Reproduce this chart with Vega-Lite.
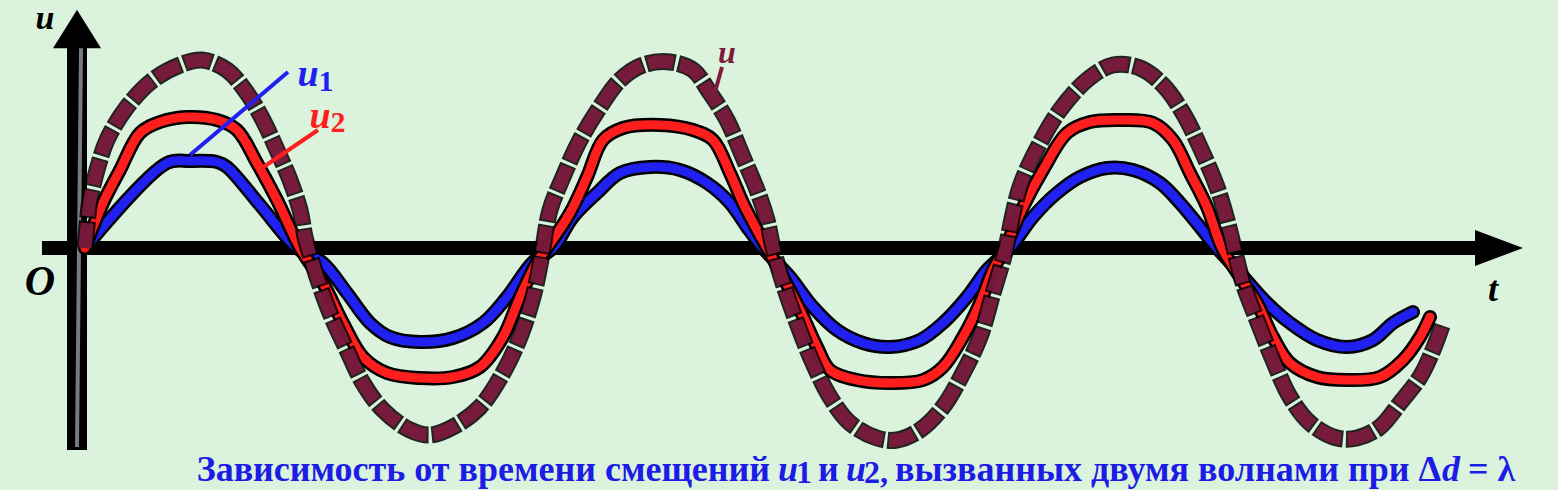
{
  "$schema": "https://vega.github.io/schema/vega-lite/v6.json",
  "width": 1558,
  "height": 490,
  "autosize": {"type": "none"},
  "padding": 0,
  "background": "#dbf3dc",
  "config": {"view": {"stroke": null}},
  "datasets": {
    "curves": [
      {"series": "u1", "t": 0, "u": 0}, {"series": "u1", "t": 82, "u": 85}, {"series": "u1", "t": 105, "u": 87}, {"series": "u1", "t": 132, "u": 86}, {"series": "u1", "t": 142, "u": 81}, {"series": "u1", "t": 175, "u": 43}, {"series": "u1", "t": 212, "u": 0},
      {"series": "u1", "t": 238, "u": -15}, {"series": "u1", "t": 262, "u": -45}, {"series": "u1", "t": 285, "u": -75}, {"series": "u1", "t": 305, "u": -89}, {"series": "u1", "t": 335, "u": -94}, {"series": "u1", "t": 368, "u": -90}, {"series": "u1", "t": 398, "u": -75}, {"series": "u1", "t": 422, "u": -49}, {"series": "u1", "t": 448, "u": -14}, {"series": "u1", "t": 468, "u": 0},
      {"series": "u1", "t": 488, "u": 31}, {"series": "u1", "t": 512, "u": 55}, {"series": "u1", "t": 535, "u": 75}, {"series": "u1", "t": 565, "u": 81}, {"series": "u1", "t": 595, "u": 78}, {"series": "u1", "t": 622, "u": 65}, {"series": "u1", "t": 645, "u": 45}, {"series": "u1", "t": 662, "u": 21}, {"series": "u1", "t": 678, "u": 0},
      {"series": "u1", "t": 705, "u": -29}, {"series": "u1", "t": 728, "u": -59}, {"series": "u1", "t": 752, "u": -82}, {"series": "u1", "t": 778, "u": -95}, {"series": "u1", "t": 805, "u": -99}, {"series": "u1", "t": 835, "u": -92}, {"series": "u1", "t": 858, "u": -75}, {"series": "u1", "t": 882, "u": -49}, {"series": "u1", "t": 902, "u": -22}, {"series": "u1", "t": 925, "u": 0},
      {"series": "u1", "t": 948, "u": 31}, {"series": "u1", "t": 972, "u": 55}, {"series": "u1", "t": 995, "u": 71}, {"series": "u1", "t": 1022, "u": 80}, {"series": "u1", "t": 1048, "u": 78}, {"series": "u1", "t": 1075, "u": 65}, {"series": "u1", "t": 1095, "u": 45}, {"series": "u1", "t": 1115, "u": 21}, {"series": "u1", "t": 1132, "u": 0},
      {"series": "u1", "t": 1155, "u": -25}, {"series": "u1", "t": 1182, "u": -55}, {"series": "u1", "t": 1205, "u": -75}, {"series": "u1", "t": 1232, "u": -92}, {"series": "u1", "t": 1262, "u": -99}, {"series": "u1", "t": 1288, "u": -92}, {"series": "u1", "t": 1308, "u": -75}, {"series": "u1", "t": 1328, "u": -64},

      {"series": "u2", "t": 0, "u": 0}, {"series": "u2", "t": 18, "u": 45}, {"series": "u2", "t": 35, "u": 78}, {"series": "u2", "t": 55, "u": 115}, {"series": "u2", "t": 75, "u": 126}, {"series": "u2", "t": 102, "u": 131}, {"series": "u2", "t": 132, "u": 128}, {"series": "u2", "t": 152, "u": 118}, {"series": "u2", "t": 172, "u": 85}, {"series": "u2", "t": 192, "u": 48}, {"series": "u2", "t": 215, "u": 0},
      {"series": "u2", "t": 238, "u": -35}, {"series": "u2", "t": 258, "u": -75}, {"series": "u2", "t": 278, "u": -109}, {"series": "u2", "t": 302, "u": -125}, {"series": "u2", "t": 335, "u": -130}, {"series": "u2", "t": 368, "u": -129}, {"series": "u2", "t": 395, "u": -119}, {"series": "u2", "t": 418, "u": -89}, {"series": "u2", "t": 435, "u": -49}, {"series": "u2", "t": 452, "u": -14}, {"series": "u2", "t": 462, "u": 0},
      {"series": "u2", "t": 485, "u": 35}, {"series": "u2", "t": 502, "u": 71}, {"series": "u2", "t": 518, "u": 108}, {"series": "u2", "t": 538, "u": 120}, {"series": "u2", "t": 575, "u": 123}, {"series": "u2", "t": 608, "u": 118}, {"series": "u2", "t": 628, "u": 108}, {"series": "u2", "t": 645, "u": 75}, {"series": "u2", "t": 658, "u": 45}, {"series": "u2", "t": 672, "u": 18}, {"series": "u2", "t": 682, "u": 0},
      {"series": "u2", "t": 698, "u": -29}, {"series": "u2", "t": 715, "u": -62}, {"series": "u2", "t": 732, "u": -99}, {"series": "u2", "t": 745, "u": -122}, {"series": "u2", "t": 772, "u": -132}, {"series": "u2", "t": 805, "u": -135}, {"series": "u2", "t": 838, "u": -132}, {"series": "u2", "t": 858, "u": -119}, {"series": "u2", "t": 878, "u": -89}, {"series": "u2", "t": 895, "u": -55}, {"series": "u2", "t": 908, "u": -22}, {"series": "u2", "t": 920, "u": 0},
      {"series": "u2", "t": 938, "u": 41}, {"series": "u2", "t": 958, "u": 78}, {"series": "u2", "t": 982, "u": 115}, {"series": "u2", "t": 1005, "u": 126}, {"series": "u2", "t": 1038, "u": 128}, {"series": "u2", "t": 1068, "u": 125}, {"series": "u2", "t": 1088, "u": 108}, {"series": "u2", "t": 1105, "u": 75}, {"series": "u2", "t": 1122, "u": 41}, {"series": "u2", "t": 1137, "u": 0},
      {"series": "u2", "t": 1155, "u": -29}, {"series": "u2", "t": 1172, "u": -55}, {"series": "u2", "t": 1188, "u": -89}, {"series": "u2", "t": 1205, "u": -115}, {"series": "u2", "t": 1232, "u": -129}, {"series": "u2", "t": 1262, "u": -132}, {"series": "u2", "t": 1295, "u": -129}, {"series": "u2", "t": 1318, "u": -112}, {"series": "u2", "t": 1335, "u": -89}, {"series": "u2", "t": 1345, "u": -69},

      {"series": "u", "t": 0, "u": 0}, {"series": "u", "t": 5, "u": 48}, {"series": "u", "t": 12, "u": 78}, {"series": "u", "t": 22, "u": 108}, {"series": "u", "t": 42, "u": 141}, {"series": "u", "t": 68, "u": 168}, {"series": "u", "t": 95, "u": 183}, {"series": "u", "t": 117, "u": 188}, {"series": "u", "t": 142, "u": 178}, {"series": "u", "t": 162, "u": 155}, {"series": "u", "t": 178, "u": 128}, {"series": "u", "t": 192, "u": 98}, {"series": "u", "t": 205, "u": 68}, {"series": "u", "t": 215, "u": 38}, {"series": "u", "t": 220, "u": 11}, {"series": "u", "t": 223, "u": 0},
      {"series": "u", "t": 232, "u": -29}, {"series": "u", "t": 245, "u": -65}, {"series": "u", "t": 262, "u": -102}, {"series": "u", "t": 278, "u": -135}, {"series": "u", "t": 298, "u": -162}, {"series": "u", "t": 325, "u": -182}, {"series": "u", "t": 345, "u": -187}, {"series": "u", "t": 368, "u": -179}, {"series": "u", "t": 395, "u": -159}, {"series": "u", "t": 418, "u": -125}, {"series": "u", "t": 435, "u": -89}, {"series": "u", "t": 448, "u": -49}, {"series": "u", "t": 455, "u": -17}, {"series": "u", "t": 458, "u": 0},
      {"series": "u", "t": 465, "u": 38}, {"series": "u", "t": 478, "u": 71}, {"series": "u", "t": 495, "u": 108}, {"series": "u", "t": 515, "u": 141}, {"series": "u", "t": 535, "u": 168}, {"series": "u", "t": 558, "u": 183}, {"series": "u", "t": 585, "u": 186}, {"series": "u", "t": 608, "u": 178}, {"series": "u", "t": 625, "u": 155}, {"series": "u", "t": 642, "u": 128}, {"series": "u", "t": 658, "u": 91}, {"series": "u", "t": 672, "u": 58}, {"series": "u", "t": 682, "u": 28}, {"series": "u", "t": 688, "u": 0},
      {"series": "u", "t": 698, "u": -35}, {"series": "u", "t": 712, "u": -75}, {"series": "u", "t": 728, "u": -115}, {"series": "u", "t": 745, "u": -149}, {"series": "u", "t": 765, "u": -175}, {"series": "u", "t": 792, "u": -190}, {"series": "u", "t": 812, "u": -192}, {"series": "u", "t": 835, "u": -182}, {"series": "u", "t": 858, "u": -159}, {"series": "u", "t": 878, "u": -125}, {"series": "u", "t": 895, "u": -89}, {"series": "u", "t": 908, "u": -45}, {"series": "u", "t": 918, "u": -12}, {"series": "u", "t": 921, "u": 0},
      {"series": "u", "t": 935, "u": 61}, {"series": "u", "t": 955, "u": 105}, {"series": "u", "t": 975, "u": 138}, {"series": "u", "t": 1002, "u": 168}, {"series": "u", "t": 1028, "u": 183}, {"series": "u", "t": 1055, "u": 180}, {"series": "u", "t": 1078, "u": 163}, {"series": "u", "t": 1098, "u": 135}, {"series": "u", "t": 1115, "u": 101}, {"series": "u", "t": 1132, "u": 61}, {"series": "u", "t": 1142, "u": 28}, {"series": "u", "t": 1149, "u": 0},
      {"series": "u", "t": 1158, "u": -35}, {"series": "u", "t": 1172, "u": -72}, {"series": "u", "t": 1188, "u": -112}, {"series": "u", "t": 1205, "u": -149}, {"series": "u", "t": 1225, "u": -175}, {"series": "u", "t": 1252, "u": -190}, {"series": "u", "t": 1272, "u": -190}, {"series": "u", "t": 1295, "u": -179}, {"series": "u", "t": 1315, "u": -155}, {"series": "u", "t": 1335, "u": -129}, {"series": "u", "t": 1348, "u": -102}, {"series": "u", "t": 1358, "u": -75}
    ],
    "axes": [
      {"name": "t-axis", "t": -43, "t2": 1395, "u": 0, "u2": 0, "w": 14},
      {"name": "u-axis", "t": -8, "t2": -8, "u": 200, "u2": -202, "w": 20}
    ],
    "leaders": [
      {"series": "u1", "t": 203, "u": 176, "t2": 105, "u2": 93},
      {"series": "u2", "t": 233, "u": 118, "t2": 177, "u2": 80},
      {"series": "u", "t": 637, "u": 181, "t2": 630, "u2": 156}
    ],
    "italicLabels": [
      {"label": "u", "t": -40, "u": 229, "color": "axis", "size": 34},
      {"label": "O", "t": -45, "u": -34, "color": "axis", "size": 42},
      {"label": "t", "t": 1408, "u": -42, "color": "axis", "size": 36},
      {"label": "u", "t": 223, "u": 173, "color": "u1", "size": 38},
      {"label": "u", "t": 235, "u": 131, "color": "u2", "size": 38},
      {"label": "u", "t": 642, "u": 195, "color": "u", "size": 32}
    ],
    "subscripts": [
      {"label": "1", "t": 241, "u": 166, "color": "u1", "size": 30},
      {"label": "2", "t": 253, "u": 125, "color": "u2", "size": 30}
    ],
    "caption": [
      {"part": "head", "label": "Зависимость от времени смещений", "t": 685, "u": -233},
      {"part": "it", "label": "u", "t": 693, "u": -233},
      {"part": "sub", "label": "1", "t": 711, "u": -235},
      {"part": "plain", "label": "и", "t": 733, "u": -233},
      {"part": "it", "label": "u", "t": 761, "u": -233},
      {"part": "sub", "label": "2,", "t": 779, "u": -235},
      {"part": "plain", "label": "вызванных двумя волнами при Δ", "t": 810, "u": -233},
      {"part": "it", "label": "d", "t": 1357, "u": -233},
      {"part": "plain", "label": "= λ", "t": 1383, "u": -233}
    ]
  },
  "encoding": {
    "x": {"field": "t", "type": "quantitative", "scale": {"domain": [-85, 1473], "nice": false, "zero": false}, "axis": null},
    "y": {"field": "u", "type": "quantitative", "scale": {"domain": [-242, 248], "nice": false, "zero": false}, "axis": null}
  },
  "layer": [
    {
      "data": {"name": "axes"},
      "mark": {"type": "rule", "color": "black", "strokeCap": "butt"},
      "encoding": {
        "x2": {"field": "t2"},
        "y2": {"field": "u2"},
        "strokeWidth": {"field": "w", "type": "quantitative", "scale": null}
      }
    },
    {
      "data": {"name": "axes"},
      "transform": [{"filter": "datum.name === 'u-axis'"}],
      "mark": {"type": "rule", "color": "#7a7a7a", "strokeWidth": 4, "xOffset": 4, "y2Offset": -3},
      "encoding": {
        "x2": {"field": "t2"},
        "y2": {"field": "u2"}
      }
    },
    {
      "data": {"name": "axes"},
      "transform": [{"filter": "datum.name === 't-axis'"}],
      "mark": {"type": "point", "shape": "M-1,-0.75L1,0L-1,0.75Z", "filled": true, "color": "black", "opacity": 1, "size": 2304, "xOffset": 19},
      "encoding": {"x": {"field": "t2", "type": "quantitative"}}
    },
    {
      "data": {"name": "axes"},
      "transform": [{"filter": "datum.name === 'u-axis'"}],
      "mark": {"type": "point", "shape": "M-1,0.8L0,-0.8L1,0.8Z", "filled": true, "color": "black", "opacity": 1, "size": 2304, "yOffset": -19}
    },
    {
      "data": {"name": "curves"},
      "transform": [{"filter": "datum.series === 'u1'"}],
      "mark": {"type": "line", "color": "black", "strokeWidth": 14, "interpolate": "catmull-rom", "strokeJoin": "round", "strokeCap": "round"}
    },
    {
      "data": {"name": "curves"},
      "transform": [{"filter": "datum.series === 'u1'"}],
      "mark": {"type": "line", "color": "#2020f0", "strokeWidth": 9, "interpolate": "catmull-rom", "strokeJoin": "round", "strokeCap": "round"}
    },
    {
      "data": {"name": "curves"},
      "transform": [{"filter": "datum.series === 'u2'"}],
      "mark": {"type": "line", "color": "black", "strokeWidth": 14, "interpolate": "catmull-rom", "strokeJoin": "round", "strokeCap": "round"}
    },
    {
      "data": {"name": "curves"},
      "transform": [{"filter": "datum.series === 'u2'"}],
      "mark": {"type": "line", "color": "#ff1e1e", "strokeWidth": 9, "interpolate": "catmull-rom", "strokeJoin": "round", "strokeCap": "round"}
    },
    {
      "data": {"name": "curves"},
      "transform": [{"filter": "datum.series === 'u'"}],
      "mark": {"type": "line", "color": "black", "strokeWidth": 17, "interpolate": "catmull-rom", "strokeJoin": "round", "strokeDash": [29, 3], "strokeDashOffset": 2, "strokeCap": "butt", "opacity": 0.85}
    },
    {
      "data": {"name": "curves"},
      "transform": [{"filter": "datum.series === 'u'"}],
      "mark": {"type": "line", "color": "#7e1a3e", "strokeWidth": 13, "interpolate": "catmull-rom", "strokeJoin": "round", "strokeDash": [25, 7], "strokeCap": "butt", "opacity": 0.92}
    },
    {
      "data": {"name": "leaders"},
      "mark": {"type": "rule", "strokeWidth": 4},
      "encoding": {
        "x2": {"field": "t2"},
        "y2": {"field": "u2"},
        "color": {"field": "series", "type": "nominal", "scale": {"domain": ["u1", "u2", "u", "axis"], "range": ["#2020f0", "#ff1e1e", "#7e1a3e", "#000000"]}, "legend": null}
      }
    },
    {
      "data": {"name": "italicLabels"},
      "mark": {"type": "text", "font": "Liberation Serif", "fontStyle": "italic", "fontWeight": "bold", "baseline": "middle", "align": "center"},
      "encoding": {
        "text": {"field": "label"},
        "size": {"field": "size", "type": "quantitative", "scale": null},
        "color": {"field": "color", "type": "nominal", "scale": {"domain": ["u1", "u2", "u", "axis"], "range": ["#2020f0", "#ff1e1e", "#7e1a3e", "#000000"]}, "legend": null}
      }
    },
    {
      "data": {"name": "subscripts"},
      "mark": {"type": "text", "font": "Liberation Serif", "fontWeight": "bold", "baseline": "middle", "align": "center"},
      "encoding": {
        "text": {"field": "label"},
        "size": {"field": "size", "type": "quantitative", "scale": null},
        "color": {"field": "color", "type": "nominal", "scale": {"domain": ["u1", "u2", "u", "axis"], "range": ["#2020f0", "#ff1e1e", "#7e1a3e", "#000000"]}, "legend": null}
      }
    },
    {
      "data": {"name": "caption"},
      "transform": [{"filter": "datum.part === 'head'"}],
      "mark": {"type": "text", "font": "Liberation Serif", "fontWeight": "bold", "fontSize": 36, "baseline": "alphabetic", "align": "right", "color": "#1c1ce6"},
      "encoding": {"text": {"field": "label"}}
    },
    {
      "data": {"name": "caption"},
      "transform": [{"filter": "datum.part === 'plain'"}],
      "mark": {"type": "text", "font": "Liberation Serif", "fontWeight": "bold", "fontSize": 36, "baseline": "alphabetic", "align": "left", "color": "#1c1ce6"},
      "encoding": {"text": {"field": "label"}}
    },
    {
      "data": {"name": "caption"},
      "transform": [{"filter": "datum.part === 'sub'"}],
      "mark": {"type": "text", "font": "Liberation Serif", "fontWeight": "bold", "fontSize": 32, "baseline": "alphabetic", "align": "left", "color": "#1c1ce6"},
      "encoding": {"text": {"field": "label"}}
    },
    {
      "data": {"name": "caption"},
      "transform": [{"filter": "datum.part === 'it'"}],
      "mark": {"type": "text", "font": "Liberation Serif", "fontWeight": "bold", "fontStyle": "italic", "fontSize": 36, "baseline": "alphabetic", "align": "left", "color": "#1c1ce6"},
      "encoding": {"text": {"field": "label"}}
    }
  ]
}
